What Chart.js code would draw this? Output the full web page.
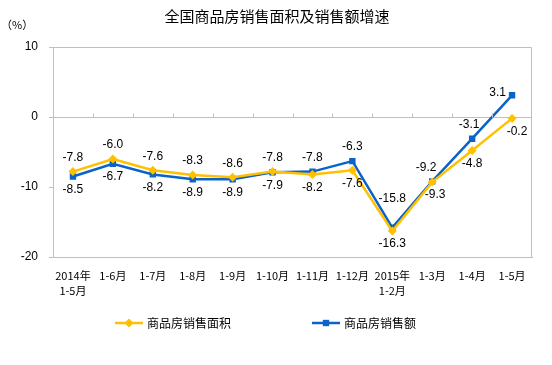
<!DOCTYPE html>
<html>
<head>
<meta charset="utf-8">
<script src="https://cdn.jsdelivr.net/npm/chart.js@4"></script>
<style>
  html, body { margin: 0; padding: 0; background: #fff; }
  #wrap { width: 552px; height: 365px; }
</style>
</head>
<body>
<div id="wrap"><canvas id="salesChart" width="552" height="365"></canvas></div>
<script>
'use strict';

const months = [
    ['2014年', '1-5月'], '1-6月', '1-7月', '1-8月', '1-9月', '1-10月',
    '1-11月', '1-12月', ['2015年', '1-2月'], '1-3月', '1-4月', '1-5月'
];
const areaGrowth = [-7.8, -6.0, -7.6, -8.3, -8.6, -7.8, -8.2, -7.6, -16.3, -9.3, -4.8, -0.2];
const amountGrowth = [-8.5, -6.7, -8.2, -8.9, -8.9, -7.9, -7.8, -6.3, -15.8, -9.2, -3.1, 3.1];
const yTicks = [10, 0, -10, -20];

const chartTitle = '全国商品房销售面积及销售额增速';
const unitLabel = '（%）';
const areaName = '商品房销售面积';
const amountName = '商品房销售额';

const yellow = '#FFC000';
const blue = '#0A63C9';
const gray = '#BFBFBF';
const sans = '"Liberation Sans", Arial, sans-serif';
const cjk = '"Noto Sans CJK SC", sans-serif';

// label nudges for a few crowded points: [dataset][index] -> [dx, dy]
const labelNudge = {
    '1-8': [0, -15],
    '1-9': [-6, 0],
    '0-9': [3, 0],
    '0-11': [5, 0],
    '1-10': [-3, 0]
};

// title, unit, box, legend and point labels
const extras = {
    id: 'extras',
    afterDraw(chart) {
        const ctx = chart.ctx;
        const area = chart.chartArea;
        const x = chart.scales.x;
        const y = chart.scales.y;
        ctx.save();

        // top and right border
        ctx.strokeStyle = gray;
        ctx.lineWidth = 1;
        ctx.beginPath();
        ctx.moveTo(area.left, area.top + 0.5);
        ctx.lineTo(area.right - 0.5, area.top + 0.5);
        ctx.lineTo(area.right - 0.5, area.bottom);
        ctx.stroke();

        // small ticks on the zero line
        const y0 = Math.round(y.getPixelForValue(0)) + 0.5;
        ctx.beginPath();
        for (let i = 1; i < months.length; i++) {
            const px = Math.round(x.getPixelForValue(i - 0.5)) + 0.5;
            ctx.moveTo(px, y0);
            ctx.lineTo(px, y0 - 4);
        }
        ctx.stroke();

        // title and unit
        ctx.fillStyle = '#000';
        ctx.textAlign = 'center';
        ctx.textBaseline = 'middle';
        ctx.font = '15px ' + cjk;
        ctx.fillText(chartTitle, 277, 16);
        ctx.textAlign = 'left';
        ctx.font = '11px ' + cjk;
        ctx.fillText(unitLabel, 1, 25);

        // point labels, higher value above, lower below
        ctx.font = '12px ' + sans;
        chart.data.datasets.forEach((ds, di) => {
            const other = chart.data.datasets[1 - di].data;
            const meta = chart.getDatasetMeta(di);
            meta.data.forEach((pt, i) => {
                const text = ds.data[i].toFixed(1);
                const last = i === ds.data.length - 1;
                if (last && ds.data[i] >= other[i]) {
                    // top point at the end sits to the left of its marker
                    ctx.textAlign = 'right';
                    ctx.fillText(text, pt.x - 6, pt.y - 3);
                    return;
                }
                const up = ds.data[i] >= other[i];
                const nudge = labelNudge[di + '-' + i] || [0, 0];
                ctx.textAlign = 'center';
                ctx.fillText(text, pt.x + nudge[0], (up ? pt.y - 14 : pt.y + 13) + nudge[1]);
            });
        });

        // legend
        const items = [
            { name: areaName, color: yellow, style: 'rectRot', x: 115 },
            { name: amountName, color: blue, style: 'rect', x: 312 }
        ];
        const ly = 323;
        ctx.font = '12px ' + cjk;
        items.forEach(it => {
            ctx.strokeStyle = it.color;
            ctx.lineWidth = 2.5;
            ctx.beginPath();
            ctx.moveTo(it.x, ly);
            ctx.lineTo(it.x + 28, ly);
            ctx.stroke();
            ctx.fillStyle = it.color;
            Chart.helpers.drawPoint(ctx, { pointStyle: it.style, radius: 4.5, borderWidth: 0 }, it.x + 14, ly);
            ctx.fillStyle = '#000';
            ctx.textAlign = 'left';
            ctx.fillText(it.name, it.x + 32, ly);
        });

        ctx.restore();
    }
};

new Chart('salesChart', {
    type: 'line',
    data: {
        labels: months,
        datasets: [{
            label: areaName,
            data: areaGrowth,
            borderColor: yellow,
            backgroundColor: yellow,
            borderWidth: 2.5,
            pointStyle: 'rectRot',
            pointRadius: 4.5,
            pointBorderWidth: 0,
            tension: 0
        }, {
            label: amountName,
            data: amountGrowth,
            borderColor: blue,
            backgroundColor: blue,
            borderWidth: 2.5,
            pointStyle: 'rect',
            pointRadius: 4.5,
            pointBorderWidth: 0,
            tension: 0
        }]
    },
    options: {
        responsive: false,
        animation: false,
        layout: { padding: { top: 47, right: 20, left: 0, bottom: 0 } },
        plugins: {
            legend: { display: false },
            title: { display: false },
            tooltip: { enabled: false }
        },
        scales: {
            x: {
                offset: true,
                grid: { display: false },
                border: { color: gray },
                ticks: {
                    autoSkip: false,
                    maxRotation: 0,
                    padding: 4,
                    color: '#000',
                    font: { family: cjk, size: 11, lineHeight: 1.3 }
                },
                afterFit: s => { s.height = 108; }
            },
            y: {
                min: -20,
                max: 10,
                afterBuildTicks: s => { s.ticks = yTicks.map(v => ({ value: v })); },
                grid: {
                    color: c => c.tick && c.tick.value === 0 ? gray : 'rgba(0,0,0,0)',
                    tickColor: gray,
                    tickLength: 4
                },
                border: { color: gray },
                ticks: {
                    padding: 11,
                    color: '#000',
                    font: { family: sans, size: 12 }
                },
                afterFit: s => { s.width = 53; }
            }
        }
    },
    plugins: [extras]
});
</script>
</body>
</html>
